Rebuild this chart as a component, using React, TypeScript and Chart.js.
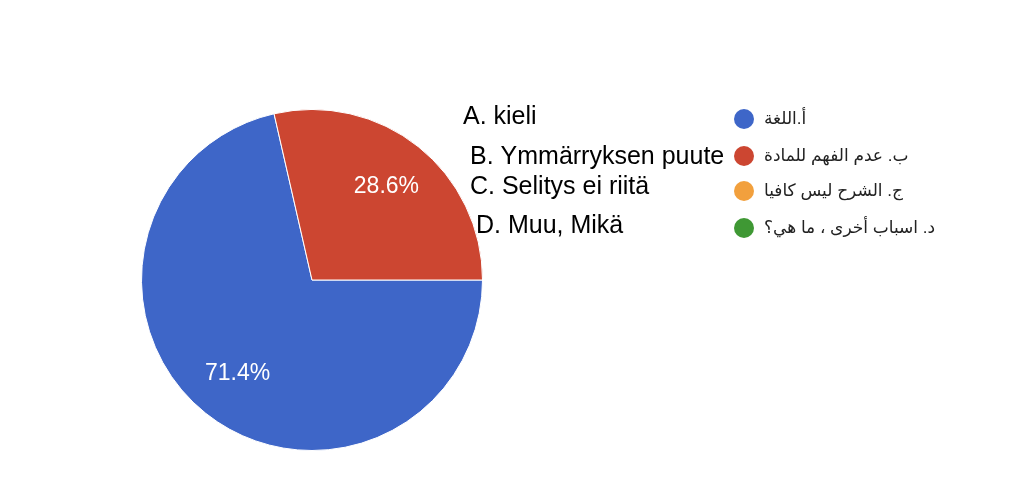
import React, { useEffect, useRef } from "react";
import { Chart, registerables } from "chart.js";

Chart.register(...registerables);

const labelsFi = ["A. kieli", "B. Ymmärryksen puute", "C. Selitys ei riitä", "D. Muu, Mikä"];
const labelsAr = ["أ.اللغة", "ب. عدم الفهم للمادة", "ج. الشرح ليس كافيا", "د. اسباب أخرى ، ما هي؟"];
const counts = [5, 2, 0, 0];
const colors = ["#3e66c8", "#cc4631", "#f2a03d", "#3f9834"];

const FONT = "Arial, 'Liberation Sans', 'DejaVu Sans', sans-serif";

const sliceLabels = {
  id: "sliceLabels",
  afterDatasetsDraw(chart: any) {
    const ctx = chart.ctx;
    const meta = chart.getDatasetMeta(0);
    const data = chart.data.datasets[0].data as number[];
    const total = data.reduce((a: number, b: number) => a + b, 0);
    ctx.save();
    ctx.fillStyle = "#ffffff";
    ctx.font = `23px ${FONT}`;
    ctx.textAlign = "center";
    ctx.textBaseline = "middle";
    meta.data.forEach((arc: any, i: number) => {
      const v = data[i];
      if (!v) return;
      const mid = (arc.startAngle + arc.endAngle) / 2;
      const r = arc.outerRadius * 0.7;
      const x = arc.x + Math.cos(mid) * r;
      const y = arc.y + Math.sin(mid) * r;
      ctx.fillText(((v / total) * 100).toFixed(1) + "%", x, y);
    });
    ctx.restore();
  },
};

const customLegend = {
  id: "customLegend",
  afterDraw(chart: any) {
    const ctx = chart.ctx;
    const ys = [119, 156, 191, 228];
    const fiX = [463, 470, 470, 476];
    const fiY = [117, 157, 187, 226];
    ctx.save();
    ctx.textBaseline = "middle";
    labelsFi.forEach((t, i) => {
      ctx.fillStyle = "#000000";
      ctx.font = `25px ${FONT}`;
      ctx.textAlign = "left";
      ctx.fillText(t, fiX[i], fiY[i]);
    });
    labelsAr.forEach((t, i) => {
      ctx.beginPath();
      ctx.fillStyle = colors[i];
      ctx.arc(744, ys[i], 10, 0, Math.PI * 2);
      ctx.fill();
      ctx.fillStyle = "#222222";
      ctx.font = `17px ${FONT}`;
      ctx.textAlign = "left";
      ctx.fillText(t, 764, ys[i]);
    });
    ctx.restore();
  },
};

export default function App() {
  const ref = useRef<HTMLCanvasElement>(null);
  useEffect(() => {
    document.body.style.margin = "0";
    const chart = new Chart(ref.current!, {
      type: "pie",
      data: {
        labels: labelsAr,
        datasets: [
          {
            data: counts,
            backgroundColor: colors,
            borderColor: "#ffffff",
            borderWidth: 1,
          },
        ],
      },
      options: {
        animation: false,
        responsive: true,
        maintainAspectRatio: false,
        rotation: 90,
        layout: { padding: { left: 141, right: 541, top: 109, bottom: 43 } },
        plugins: {
          legend: { display: false },
          tooltip: { enabled: false },
        },
      },
      plugins: [sliceLabels, customLegend],
    });
    return () => chart.destroy();
  }, []);
  return (
    <div style={{ position: "fixed", left: 0, top: 0, width: 1024, height: 494, background: "#fff" }}>
      <canvas ref={ref} />
    </div>
  );
}
